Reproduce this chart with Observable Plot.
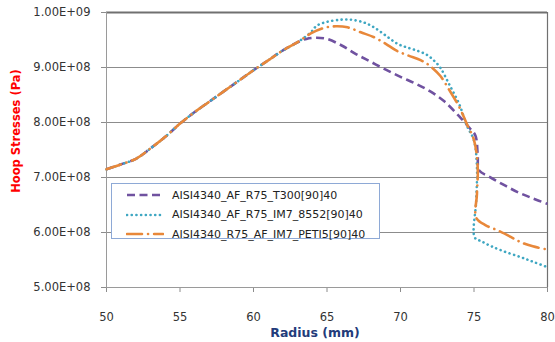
<!DOCTYPE html>
<html>
<head>
<meta charset="utf-8">
<script src="https://cdn.jsdelivr.net/npm/d3@7"></script>
<script src="https://cdn.jsdelivr.net/npm/@observablehq/plot@0.6"></script>
<style>
  html, body { margin: 0; padding: 0; background: #fff; }
  #wrap { position: relative; width: 555px; height: 342px; font-family: "DejaVu Sans", sans-serif; }
  #legend { position: absolute; left: 111px; top: 183px; width: 269px; height: 56px; border: 1px solid #8EA9D6; background: #fff; box-sizing: border-box; }
  .li { position: absolute; left: 0; height: 20px; display: flex; align-items: center; font-size: 11px; color: #222; }
  .li svg { margin-left: 14px; margin-right: 8px; }
</style>
</head>
<body>
<div id="wrap"></div>
<script>
// Series names
const seriesNames = ["AISI4340_AF_R75_T300[90]40", "AISI4340_AF_R75_IM7_8552[90]40", "AISI4340_R75_AF_IM7_PETI5[90]40"];

// Shared early part of the curves (radius mm, hoop stress Pa)
const commonR = [50, 51, 52, 53, 54, 55, 56, 57, 58, 59, 60, 61, 62, 63];
const commonS = [7.15e8, 7.24e8, 7.34e8, 7.53e8, 7.74e8, 7.98e8, 8.19e8, 8.38e8, 8.57e8, 8.76e8, 8.95e8, 9.13e8, 9.31e8, 9.46e8];

// T300 (purple dashed)
const t300R = [63.6, 64.3, 65, 66, 67, 68, 69, 70, 71, 72, 73, 74, 74.7, 75.1, 75.25, 75.35, 76, 77, 78, 79, 80];
const t300S = [9.52e8, 9.54e8, 9.52e8, 9.40e8, 9.24e8, 9.10e8, 8.96e8, 8.83e8, 8.71e8, 8.57e8, 8.38e8, 8.11e8, 7.90e8, 7.76e8, 7.42e8, 7.13e8, 7.02e8, 6.87e8, 6.73e8, 6.62e8, 6.52e8];

// IM7_8552 (teal dotted)
const im7R = [63.9, 64.3, 65, 66, 66.6, 67.5, 68.2, 69, 69.8, 70.5, 71.2, 71.8, 72.3, 72.7, 73.3, 74, 74.5, 75, 75.2, 75.15, 75.05, 75.5, 76.1, 77, 78.2, 79, 80];
const im7S = [9.64e8, 9.76e8, 9.83e8, 9.87e8, 9.87e8, 9.82e8, 9.73e8, 9.58e8, 9.43e8, 9.36e8, 9.30e8, 9.23e8, 9.12e8, 9.00e8, 8.70e8, 8.33e8, 7.95e8, 7.67e8, 7.19e8, 6.58e8, 5.91e8, 5.84e8, 5.76e8, 5.66e8, 5.55e8, 5.47e8, 5.37e8];

// PETI5 (orange dash-dot)
const petiR = [63.9, 64.8, 65.6, 66.4, 67.3, 68.2, 69, 69.7, 70.5, 71.4, 72, 72.7, 73.3, 74, 74.5, 75, 75.25, 75.2, 75.15, 75.8, 76.6, 77.5, 78.2, 79, 80];
const petiS = [9.62e8, 9.72e8, 9.75e8, 9.73e8, 9.64e8, 9.55e8, 9.43e8, 9.31e8, 9.22e8, 9.13e8, 9.03e8, 8.85e8, 8.60e8, 8.28e8, 7.98e8, 7.68e8, 7.20e8, 6.70e8, 6.27e8, 6.13e8, 6.04e8, 5.92e8, 5.82e8, 5.75e8, 5.69e8];

// Axis ticks
const xTicks = [50, 55, 60, 65, 70, 75, 80];
const yTicks = [5e8, 6e8, 7e8, 8e8, 9e8, 1e9];
const yTickLabels = ["5.00E+08", "6.00E+08", "7.00E+08", "8.00E+08", "9.00E+08", "1.00E+09"];

const colors = ["#7052A0", "#3FA7C2", "#E8883A"];
const dashes = ["8,4.5", "0.1,4.6", "15,6,0.1,6"];
const caps = ["butt", "round", "round"];

function build(rs, ss) {
  const r = commonR.concat(rs), s = commonS.concat(ss);
  return r.map((x, i) => ({r: x, s: s[i]}));
}
const data = [build(t300R, t300S), build(im7R, im7S), build(petiR, petiS)];

const lineMarks = data.map((d, i) => Plot.line(d, {
  x: "r", y: "s", curve: "catmull-rom",
  stroke: colors[i], strokeWidth: 2.6, strokeDasharray: dashes[i], strokeLinecap: caps[i]
}));

const chart = Plot.plot({
  width: 555, height: 342,
  marginLeft: 106, marginRight: 8, marginTop: 12, marginBottom: 55,
  style: {fontFamily: "DejaVu Sans, sans-serif", fontSize: "11.5px", color: "#333", background: "#fff"},
  x: {domain: [50, 80], ticks: xTicks, tickSize: 5, tickPadding: 20, label: null},
  y: {domain: [5e8, 1e9], ticks: yTicks, tickSize: 5, tickPadding: 11, label: null,
      tickFormat: d => yTickLabels[yTicks.indexOf(d)]},
  marks: [
    Plot.gridY(yTicks, {stroke: "#8c8c8c", strokeOpacity: 1, strokeWidth: 1}),
    Plot.ruleX([80], {stroke: "#707070", strokeWidth: 1.2}),
    Plot.ruleY([1e9], {stroke: "#707070", strokeWidth: 1.8}),
    Plot.ruleX([50], {stroke: "#9a9a9a", strokeWidth: 1}),
    Plot.ruleY([5e8], {stroke: "#9a9a9a", strokeWidth: 1}),
    ...lineMarks
  ]
});

const svg = d3.select(chart);
svg.selectAll("[aria-label='x-axis tick'] path, [aria-label='y-axis tick'] path").attr("stroke", "#8c8c8c");
svg.append("text")
  .attr("transform", "translate(20,131) rotate(-90)")
  .attr("text-anchor", "middle")
  .attr("fill", "#FF0000")
  .attr("font-weight", "bold")
  .attr("font-size", "11.5px")
  .attr("font-family", "DejaVu Sans, sans-serif")
  .text("Hoop Stresses (Pa)");
svg.append("text")
  .attr("x", 315).attr("y", 337)
  .attr("text-anchor", "middle")
  .attr("fill", "#233C7A")
  .attr("font-weight", "bold")
  .attr("font-size", "12.5px")
  .attr("font-family", "DejaVu Sans, sans-serif")
  .text("Radius (mm)");

const wrap = document.getElementById("wrap");
wrap.appendChild(chart);

const legend = document.createElement("div");
legend.id = "legend";
seriesNames.forEach((name, i) => {
  const item = document.createElement("div");
  item.className = "li";
  item.style.top = (1 + i * 19.5) + "px";
  item.innerHTML = `<svg width="38" height="8"><line x1="1" y1="4" x2="37" y2="4" stroke="${colors[i]}" stroke-width="2.6" stroke-dasharray="${dashes[i]}" stroke-linecap="${caps[i]}"/></svg><span>${name}</span>`;
  legend.appendChild(item);
});
wrap.appendChild(legend);
</script>
</body>
</html>
